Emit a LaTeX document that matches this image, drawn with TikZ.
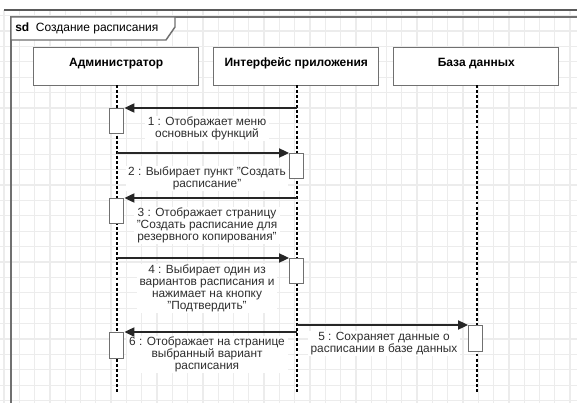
\documentclass[tikz,border=0pt]{standalone}
\usepackage{fontspec}
\setmainfont{Liberation Sans}
\usetikzlibrary{arrows.meta}
\definecolor{gridc}{HTML}{ECECEC}
\definecolor{edge}{HTML}{707070}
\definecolor{txt}{HTML}{2E2E2E}
\begin{document}
\begin{tikzpicture}[x=0.75pt,y=-0.75pt,
  gridline/.style={gridc, line width=1pt},
  frameline/.style={edge, line width=1.1pt},
  head/.style={draw=edge, line width=1.1pt, fill=white, inner sep=0pt,
    minimum width=123.75pt, minimum height=28.5pt, anchor=north west,
    text height=13.7pt, text depth=14.8pt, font=\fontsize{9}{11}\selectfont\bfseries},
  lifeline/.style={black, line width=0.8pt, dash pattern=on 2.2pt off 1.6pt},
  actbox/.style={draw=edge, line width=1.1pt, fill=white, inner sep=0pt,
    minimum width=10.5pt, minimum height=18.75pt, anchor=north west},
  msg/.style={black!85, line width=0.85pt, -{Triangle[length=7.5pt,width=7pt]}},
  msglabel/.style={fill=white, inner xsep=2pt, inner ysep=1pt, anchor=north, align=center,
    text=txt, font=\fontsize{8.9}{8.9}\selectfont}
]
\useasboundingbox (0,0) rectangle (577,403);
\fill[white] (0,0) rectangle (577,403);

% background grid
\foreach \gx in {4,19.3,...,577} \draw[gridline] (\gx,10) -- (\gx,403);
\foreach \gy in {15.6,31,...,403} \draw[gridline] (0,\gy) -- (577,\gy);

% window edge and diagram frame
\draw[edge!80!black, line width=1.1pt] (4,10) -- (577,10);
\draw[frameline] (577,17) -- (11,17) -- (11,403);
\draw[frameline, fill=white] (11,17) -- (175,17) -- (175,27) -- (166,40) -- (11,40) -- cycle;
\node[anchor=west, inner sep=0pt, font=\fontsize{9}{11}\selectfont] (title) at (15,28.5)
  {\textbf{sd}\ \ Создание расписания};

% lifelines
\node[head] (admin) at (33,47) {Администратор};
\node[head] (ui) at (213,47) {Интерфейс приложения};
\node[head] (db) at (393,47) {База данных};

\coordinate (adminEnd) at (117,393);
\coordinate (uiEnd) at (297,393);
\coordinate (dbEnd) at (477,393);
\draw[lifeline] (117,85) -- (adminEnd);
\draw[lifeline] (297,85) -- (uiEnd);
\draw[lifeline] (477,85) -- (dbEnd);

% activation bars
\node[actbox] (a1) at (109,108) {};
\node[actbox] (u2) at (289,153) {};
\node[actbox] (a3) at (109,198) {};
\node[actbox] (u4) at (289,258) {};
\node[actbox, minimum height=19.5pt] (d5) at (468,325) {};
\node[actbox, minimum height=19.5pt] (a6) at (109,332) {};

% message origins on the lifelines
\coordinate (s1) at (297,108);
\coordinate (s2) at (117,153);
\coordinate (s3) at (297,198);
\coordinate (s4) at (117,258);
\coordinate (s5) at (297,325);
\coordinate (s6) at (297,332);

% message labels
\node[msglabel] (l1) at (207,115.5) {1 : Отображает меню\\основных функций};
\node[msglabel] (l2) at (207,165.5) {2 : Выбирает пункт "Создать\\расписание"};
\node[msglabel] (l3) at (207,206.5) {3 : Отображает страницу\\"Создать расписание для\\резервного копирования"};
\node[msglabel] (l4) at (207,263.5) {4 : Выбирает один из\\вариантов расписания и\\нажимает на кнопку\\"Подтвердить"};
\node[msglabel] (l5) at (384,330.5) {5 : Сохраняет данные о\\расписании в базе данных};
\node[msglabel] (l6) at (207,335.5) {6 : Отображает на странице\\выбранный вариант\\расписания};

% messages
\draw[msg] (s1) -- (a1.north east);
\draw[msg] (s2) -- (u2.north west);
\draw[msg] (s3) -- (a3.north east);
\draw[msg] (s4) -- (u4.north west);
\draw[msg] (s5) -- (d5.north west);
\draw[msg] (s6) -- (a6.north east);
\end{tikzpicture}
\end{document}
